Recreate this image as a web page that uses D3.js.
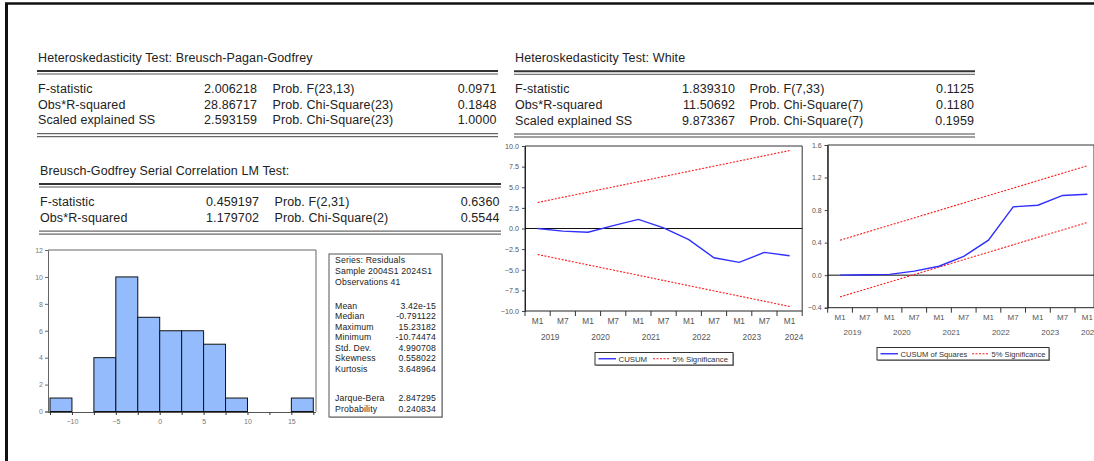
<!DOCTYPE html>
<html>
<head>
<meta charset="utf-8">
<script src="https://cdn.jsdelivr.net/npm/d3@7"></script>
<style>
  html, body { margin: 0; padding: 0; background: #fff; }
  svg { display: block; }
  text { font-family: "Liberation Sans", Arial, sans-serif; }
</style>
</head>
<body>
<svg id="chart" width="1094" height="461"></svg>
<script>
// ---------- Test tables ----------
const bpgTitle = "Heteroskedasticity Test: Breusch-Pagan-Godfrey";
const bpgLabels = ["F-statistic", "Obs*R-squared", "Scaled explained SS"];
const bpgStats = ["2.006218", "28.86717", "2.593159"];
const bpgProbLabels = ["Prob. F(23,13)", "Prob. Chi-Square(23)", "Prob. Chi-Square(23)"];
const bpgProbs = ["0.0971", "0.1848", "1.0000"];

const bgTitle = "Breusch-Godfrey Serial Correlation LM Test:";
const bgLabels = ["F-statistic", "Obs*R-squared"];
const bgStats = ["0.459197", "1.179702"];
const bgProbLabels = ["Prob. F(2,31)", "Prob. Chi-Square(2)"];
const bgProbs = ["0.6360", "0.5544"];

const whiteTitle = "Heteroskedasticity Test: White";
const whiteLabels = ["F-statistic", "Obs*R-squared", "Scaled explained SS"];
const whiteStats = ["1.839310", "11.50692", "9.873367"];
const whiteProbLabels = ["Prob. F(7,33)", "Prob. Chi-Square(7)", "Prob. Chi-Square(7)"];
const whiteProbs = ["0.1125", "0.1180", "0.1959"];

// ---------- Residual histogram ----------
const binStarts = [-12.5, -10, -7.5, -5, -2.5, 0, 2.5, 5, 7.5, 10, 12.5, 15];
const binCounts = [1, 0, 4, 10, 7, 6, 6, 5, 1, 0, 0, 1];
const histXTicks = [-10, -5, 0, 5, 10, 15];
const histYTicks = [0, 2, 4, 6, 8, 10, 12];

const seriesInfo = ["Series: Residuals", "Sample 2004S1 2024S1", "Observations 41"];
const statNames = ["Mean", "Median", "Maximum", "Minimum", "Std. Dev.", "Skewness", "Kurtosis"];
const statValues = ["3.42e-15", "-0.791122", "15.23182", "-10.74474", "4.990708", "0.558022", "3.648964"];
const jbNames = ["Jarque-Bera", "Probability"];
const jbValues = ["2.847295", "0.240834"];

// ---------- Recursive residual tests (semi-annual) ----------
const periods = ["2019M1", "2019M7", "2020M1", "2020M7", "2021M1", "2021M7",
                 "2022M1", "2022M7", "2023M1", "2023M7", "2024M1"];
const years = ["2019", "2020", "2021", "2022", "2023", "2024"];

const cusum = [0.0, -0.32, -0.45, 0.35, 1.1, 0.07, -1.35, -3.55, -4.1, -2.9, -3.3];
const cusumBandEnds = ["2019M1", "2024M1"];
const cusumUpper = [3.15, 9.45];
const cusumLower = [-3.15, -9.45];
const cusumYTicks = [-10, -7.5, -5, -2.5, 0, 2.5, 5, 7.5, 10];

const cusumSq = [0.0, 0.005, 0.01, 0.05, 0.11, 0.23, 0.43, 0.84, 0.86, 0.98, 0.995];
const cusumSqUpper = [0.43, 1.345];
const cusumSqLower = [-0.267, 0.648];
const cusumSqYTicks = [-0.4, 0, 0.4, 0.8, 1.2, 1.6];

const BLUE = "#2f2fff";
const RED = "#ff1a1a";
const AXIS_TXT = "#555";

const svg = d3.select("#chart");

// outer frame (top and left edges)
svg.append("line").attr("x1", 5).attr("x2", 1094).attr("y1", 3.5).attr("y2", 3.5)
  .attr("stroke", "#111").attr("stroke-width", 2.5);
svg.append("line").attr("x1", 6.5).attr("x2", 6.5).attr("y1", 3).attr("y2", 461)
  .attr("stroke", "#111").attr("stroke-width", 3);

// ---------- table drawing ----------
function drawTable(cfg) {
  const g = svg.append("g").attr("letter-spacing", 0.1);
  const fs = 12.5;
  g.append("text").attr("x", cfg.x0).attr("y", cfg.titleY).text(cfg.title)
    .attr("font-size", fs).attr("fill", "#222");
  const ly = cfg.titleY + 9;
  g.append("line").attr("x1", cfg.x0 - 1).attr("x2", cfg.x1).attr("y1", ly).attr("y2", ly)
    .attr("stroke", "#333").attr("stroke-width", 2);
  g.append("line").attr("x1", cfg.x0 - 1).attr("x2", cfg.x1).attr("y1", ly + 3).attr("y2", ly + 3)
    .attr("stroke", "#555").attr("stroke-width", 1);
  const row = d3.scaleLinear().domain([0, 1]).range([cfg.rowY, cfg.rowY + 15.6]);
  cfg.labels.forEach((lab, i) => {
    const yy = row(i);
    g.append("text").attr("x", cfg.x0).attr("y", yy).text(lab).attr("font-size", fs).attr("fill", "#222");
    g.append("text").attr("x", cfg.statX).attr("y", yy).attr("text-anchor", "end")
      .text(cfg.stats[i]).attr("font-size", fs).attr("fill", "#222");
    g.append("text").attr("x", cfg.probLabX).attr("y", yy).text(cfg.probLabels[i])
      .attr("font-size", fs).attr("fill", "#222");
    g.append("text").attr("x", cfg.probX).attr("y", yy).attr("text-anchor", "end")
      .text(cfg.probs[i]).attr("font-size", fs).attr("fill", "#222");
  });
  const by = row(cfg.labels.length - 1) + 9.5;
  [0, 3].forEach(d => {
    g.append("line").attr("x1", cfg.x0 - 1).attr("x2", cfg.x1).attr("y1", by + d).attr("y2", by + d)
      .attr("stroke", "#444").attr("stroke-width", 1);
  });
}

drawTable({ x0: 38, x1: 498, titleY: 62, title: bpgTitle, rowY: 93,
  labels: bpgLabels, stats: bpgStats, probLabels: bpgProbLabels, probs: bpgProbs,
  statX: 257, probLabX: 272.5, probX: 496.5 });
drawTable({ x0: 40, x1: 501, titleY: 175, title: bgTitle, rowY: 206,
  labels: bgLabels, stats: bgStats, probLabels: bgProbLabels, probs: bgProbs,
  statX: 259, probLabX: 274.5, probX: 499.5 });
drawTable({ x0: 515, x1: 975, titleY: 62.3, title: whiteTitle, rowY: 93.3,
  labels: whiteLabels, stats: whiteStats, probLabels: whiteProbLabels, probs: whiteProbs,
  statX: 735, probLabX: 749.5, probX: 974 });

// ---------- histogram ----------
(function () {
  const g = svg.append("g");
  const left = 48, right = 316, top = 250, bottom = 411.5;
  const x = d3.scaleLinear().domain([-12.5, 17.5]).range([50, 313.3]);
  const y = d3.scaleLinear().domain([0, 12]).range([bottom, top]);
  const binW = 2.5;

  // frame
  g.append("path").attr("d", `M${left},${top}H${right}V${bottom}`)
    .attr("fill", "none").attr("stroke", "#666").attr("stroke-width", 1);

  g.selectAll("rect.bar").data(binStarts.map((s, i) => ({ s, c: binCounts[i] })).filter(d => d.c > 0))
    .join("rect").attr("class", "bar")
    .attr("x", d => x(d.s)).attr("width", d => x(d.s + binW) - x(d.s))
    .attr("y", d => y(d.c)).attr("height", d => y(0) - y(d.c))
    .attr("fill", "#94bbfb").attr("stroke", "#111").attr("stroke-width", 1);

  const ya = d3.axisLeft(y).tickValues(histYTicks).tickSize(3).tickPadding(2).tickFormat(d3.format("d"));
  g.append("g").attr("transform", `translate(${left},0)`).call(ya)
    .call(s => s.select(".domain").attr("stroke", "#666"))
    .call(s => s.selectAll(".tick line").attr("stroke", "#666"))
    .call(s => s.selectAll("text").attr("font-size", 7).attr("fill", "#777")
      .attr("font-family", "'Liberation Sans', Arial, sans-serif"));

  const edges = binStarts.concat([binStarts[binStarts.length - 1] + binW]);
  const xa = d3.axisBottom(x).tickValues(edges).tickSize(3)
    .tickFormat(d => histXTicks.includes(d) ? d3.format("d")(d) : "");
  g.append("g").attr("transform", `translate(0,${bottom + 0.5})`).call(xa)
    .call(s => s.select(".domain").attr("d", `M${left},0.5H${right}`).attr("stroke", "#555"))
    .call(s => s.selectAll(".tick line").attr("stroke", "#333"))
    .call(s => s.selectAll("text").attr("font-size", 7).attr("fill", "#777").attr("dy", "0.9em")
      .attr("font-family", "'Liberation Sans', Arial, sans-serif"));

  // statistics box
  const bx = 329, by = 254, bw = 113, bh = 163;
  g.append("rect").attr("x", bx + 1).attr("y", by + 1).attr("width", bw).attr("height", bh)
    .attr("fill", "#bbb");
  g.append("rect").attr("x", bx).attr("y", by).attr("width", bw).attr("height", bh)
    .attr("fill", "#fff").attr("stroke", "#555").attr("stroke-width", 1);
  const fs = 8.7, lx = 335, vx = 436;
  const tg = g.append("g").attr("letter-spacing", 0.15);
  const hRow = d3.scaleLinear().domain([0, 1]).range([263, 274.2]);
  seriesInfo.forEach((t, i) => tg.append("text").attr("x", lx).attr("y", hRow(i)).text(t)
    .attr("font-size", fs).attr("fill", "#222"));
  const sRow = d3.scaleLinear().domain([0, 1]).range([309, 319.45]);
  statNames.forEach((t, i) => {
    tg.append("text").attr("x", lx).attr("y", sRow(i)).text(t).attr("font-size", fs).attr("fill", "#222");
    tg.append("text").attr("x", vx).attr("y", sRow(i)).text(statValues[i]).attr("text-anchor", "end")
      .attr("font-size", fs).attr("fill", "#222");
  });
  const jRow = d3.scaleLinear().domain([0, 1]).range([401.3, 412]);
  jbNames.forEach((t, i) => {
    tg.append("text").attr("x", lx).attr("y", jRow(i)).text(t).attr("font-size", fs).attr("fill", "#222");
    tg.append("text").attr("x", vx).attr("y", jRow(i)).text(jbValues[i]).attr("text-anchor", "end")
      .attr("font-size", fs).attr("fill", "#222");
  });
})();

// ---------- recursive-residual charts ----------
function drawRecursive(cfg) {
  const g = svg.append("g");
  const x = d3.scaleBand().domain(periods).range([cfg.left, cfg.left + cfg.band * periods.length]);
  const y = d3.scaleLinear().domain(cfg.yDomain).range([cfg.bottom, cfg.top]);
  const cx = p => x(p) + x.bandwidth() / 2;
  const right = Math.min(cfg.left + cfg.band * periods.length, 1094);

  // frame
  g.append("path").attr("d", `M${cfg.left},${cfg.bottom}V${cfg.top}H${right}V${cfg.bottom}`)
    .attr("fill", "none").attr("stroke", "#333").attr("stroke-width", 1);

  // y axis
  const ya = d3.axisLeft(y).tickValues(cfg.yTicks).tickSize(3).tickPadding(3).tickFormat(d3.format(".1f"));
  g.append("g").attr("transform", `translate(${cfg.left},0)`).call(ya)
    .call(s => s.select(".domain").attr("stroke", "#222"))
    .call(s => s.selectAll(".tick line").attr("stroke", "#444"))
    .call(s => s.selectAll("text").attr("font-size", cfg.yFont).attr("fill", AXIS_TXT)
      .attr("font-family", "'Liberation Sans', Arial, sans-serif"));

  // x axis: tick marks on period boundaries, labels in period centres
  const xa = g.append("g");
  xa.append("line").attr("x1", cfg.left).attr("x2", right).attr("y1", cfg.bottom).attr("y2", cfg.bottom)
    .attr("stroke", "#222");
  xa.selectAll("line.tk").data(periods.concat(["end"]))
    .join("line").attr("class", "tk")
    .attr("x1", (p, i) => cfg.left + i * x.step()).attr("x2", (p, i) => cfg.left + i * x.step())
    .attr("y1", cfg.bottom).attr("y2", cfg.bottom + 5)
    .attr("stroke", "#333");
  xa.selectAll("text.m").data(periods).join("text").attr("class", "m")
    .attr("x", p => cx(p)).attr("y", cfg.mY).attr("text-anchor", "middle")
    .attr("font-size", cfg.xFont).attr("fill", AXIS_TXT).text(p => p.slice(4));
  xa.selectAll("text.yr").data(years).join("text").attr("class", "yr")
    .attr("x", yr => {
      const ps = periods.filter(p => p.startsWith(yr));
      const a = x(ps[0]), b = x(ps[ps.length - 1]) + x.bandwidth();
      return ps.length > 1 ? (a + b) / 2 : cx(ps[0]) + cfg.lastYearShift;
    })
    .attr("y", cfg.yrY).attr("text-anchor", "middle")
    .attr("font-size", cfg.xFont).attr("fill", AXIS_TXT).text(yr => yr);

  // zero line
  g.append("line").attr("x1", cfg.left).attr("x2", right).attr("y1", y(0)).attr("y2", y(0))
    .attr("stroke", "#111").attr("stroke-width", 1);

  // significance bounds
  const line = d3.line().x(d => cx(d[0])).y(d => y(d[1]));
  [cfg.upper, cfg.lower].forEach(b => {
    g.append("path").attr("d", line(cusumBandEnds.map((p, i) => [p, b[i]])))
      .attr("fill", "none").attr("stroke", RED).attr("stroke-width", 1.1)
      .attr("stroke-dasharray", "2,1.5");
  });

  // statistic
  g.append("path").attr("d", line(periods.map((p, i) => [p, cfg.values[i]])))
    .attr("fill", "none").attr("stroke", BLUE).attr("stroke-width", 1.4);

  // legend
  const L = cfg.legend;
  g.append("rect").attr("x", L.x + 1).attr("y", L.y + 1).attr("width", L.w).attr("height", L.h).attr("fill", "#999");
  g.append("rect").attr("x", L.x).attr("y", L.y).attr("width", L.w).attr("height", L.h)
    .attr("fill", "#fff").attr("stroke", "#333").attr("stroke-width", 1);
  const ly = L.y + L.h / 2;
  g.append("line").attr("x1", L.x + 3.5).attr("x2", L.x + 21).attr("y1", ly).attr("y2", ly)
    .attr("stroke", BLUE).attr("stroke-width", 1.4);
  g.append("text").attr("x", L.x + 23.5).attr("y", ly + 2.8).text(L.label)
    .attr("font-size", L.fs).attr("fill", "#333");
  g.append("line").attr("x1", L.redX).attr("x2", L.redX + 17).attr("y1", ly).attr("y2", ly)
    .attr("stroke", RED).attr("stroke-width", 1.1).attr("stroke-dasharray", "2,1.5");
  g.append("text").attr("x", L.redX + 19.5).attr("y", ly + 2.8).text("5% Significance")
    .attr("font-size", L.fs).attr("fill", "#333");
}

drawRecursive({
  left: 525, band: 25.2, top: 146, bottom: 311, yDomain: [-10, 10], yTicks: cusumYTicks,
  values: cusum, upper: cusumUpper, lower: cusumLower,
  yFont: 7.2, xFont: 8.3, mY: 324, yrY: 339.5, lastYearShift: 4.5,
  legend: { x: 595, y: 352.5, w: 138, h: 12.5, label: "CUSUM", redX: 653, fs: 7.8 }
});
drawRecursive({
  left: 827.7, band: 24.73, top: 145, bottom: 307.7, yDomain: [-0.4, 1.6], yTicks: cusumSqYTicks,
  values: cusumSq, upper: cusumSqUpper, lower: cusumSqLower,
  yFont: 7, xFont: 8, mY: 319.5, yrY: 334.5, lastYearShift: 2.5,
  legend: { x: 877, y: 347.5, w: 172, h: 12.5, label: "CUSUM of Squares", redX: 972, fs: 7.6 }
});
</script>
</body>
</html>
